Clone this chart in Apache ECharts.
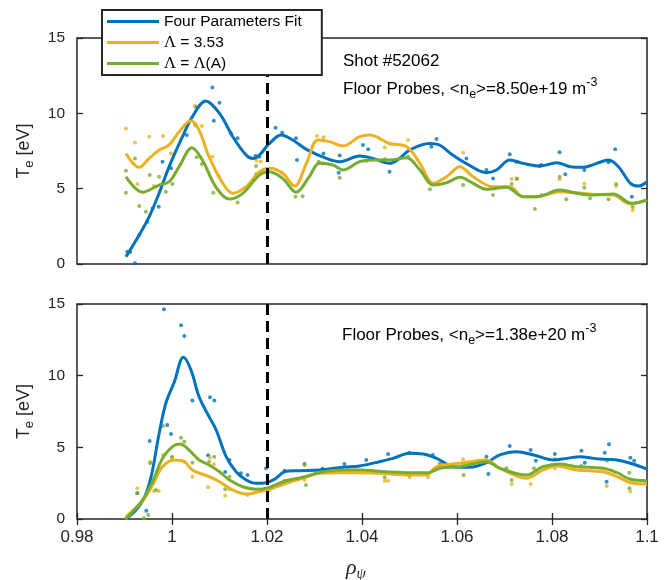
<!DOCTYPE html>
<html>
<head>
<meta charset="utf-8">
<script src="https://cdn.jsdelivr.net/npm/echarts@6/dist/echarts.min.js"></script>
<style>
  html, body { margin: 0; padding: 0; background: #fff; }
  #chart { width: 666px; height: 580px; }
</style>
</head>
<body>
<div id="chart"></div>
<script>
// ---- Shot #52062, <ne> = 8.50e+19 m^-3 (upper panel) ----
const fitFourTopX = [0.9903, 0.9931, 0.9952, 0.9973, 0.9994, 1.0022, 1.0043, 1.0071, 1.0100, 1.0128, 1.0156, 1.0170, 1.0184, 1.0205, 1.0230, 1.0254, 1.0283, 1.0325, 1.0353, 1.0395, 1.0423, 1.0458, 1.0479, 1.0500, 1.0542, 1.0563, 1.0591, 1.0619, 1.0662, 1.0683, 1.0711, 1.0739, 1.0775, 1.0810, 1.0838, 1.0866, 1.0894, 1.0919, 1.0940, 1.0965, 1.0982, 1.1000];
const fitFourTopY = [0.48, 1.92, 3.14, 4.70, 6.46, 8.45, 9.78, 10.82, 10.00, 8.45, 7.23, 7.00, 7.23, 8.00, 8.56, 8.23, 7.61, 7.01, 6.79, 7.17, 7.01, 6.68, 7.01, 7.56, 8.00, 7.90, 7.23, 6.68, 6.06, 6.24, 6.90, 6.68, 6.50, 6.72, 6.46, 6.42, 6.68, 6.90, 6.46, 5.35, 5.17, 5.46];

const fitConstTopX = [0.9903, 0.9931, 0.9952, 0.9973, 0.9994, 1.0015, 1.0040, 1.0057, 1.0078, 1.0107, 1.0128, 1.0156, 1.0184, 1.0205, 1.0233, 1.0258, 1.0283, 1.0307, 1.0332, 1.0360, 1.0395, 1.0416, 1.0458, 1.0494, 1.0522, 1.0550, 1.0578, 1.0606, 1.0634, 1.0676, 1.0711, 1.0739, 1.0768, 1.0817, 1.0852, 1.0887, 1.0929, 1.0965, 1.1000];
const fitConstTopY = [7.34, 6.42, 7.01, 7.56, 7.90, 8.78, 9.51, 8.89, 7.12, 5.35, 4.69, 5.13, 6.12, 6.35, 6.02, 5.17, 6.68, 8.23, 8.12, 7.83, 8.45, 8.56, 8.00, 7.78, 6.68, 5.35, 5.79, 6.46, 5.79, 5.13, 5.13, 4.47, 4.47, 4.80, 4.73, 4.62, 4.58, 3.98, 4.25];

const fitVarTopX = [0.9903, 0.9938, 0.9973, 0.9994, 1.0015, 1.0042, 1.0064, 1.0092, 1.0121, 1.0149, 1.0184, 1.0205, 1.0233, 1.0261, 1.0289, 1.0310, 1.0339, 1.0360, 1.0395, 1.0423, 1.0458, 1.0494, 1.0522, 1.0550, 1.0578, 1.0606, 1.0634, 1.0662, 1.0704, 1.0739, 1.0768, 1.0817, 1.0852, 1.0887, 1.0929, 1.0968, 1.1000];
const fitVarTopY = [5.79, 4.76, 5.24, 5.46, 6.46, 7.72, 6.90, 5.13, 4.31, 4.69, 5.90, 6.12, 5.68, 4.76, 5.79, 6.68, 6.57, 6.24, 6.79, 6.90, 6.90, 7.05, 6.24, 5.24, 5.39, 5.75, 5.35, 4.96, 5.09, 4.47, 4.47, 4.91, 4.69, 4.58, 4.64, 4.03, 4.25];

const probeFourTopX = [0.9906, 0.9912, 0.9922, 0.9931, 0.9948, 0.9959, 0.9972, 0.9980, 0.9998, 1.0031, 1.0050, 1.0085, 1.0088, 1.0100, 1.0124, 1.0138, 1.0176, 1.0184, 1.0218, 1.0232, 1.0261, 1.0263, 1.0319, 1.0353, 1.0351, 1.0402, 1.0413, 1.0458, 1.0546, 1.0557, 1.0620, 1.0662, 1.0676, 1.0711, 1.0725, 1.0774, 1.0778, 1.0816, 1.0828, 1.0868, 1.0919, 1.0933, 1.0968];
const probeFourTopY = [0.82, 0.80, 0.05, 1.92, 2.81, 3.69, 3.80, 6.79, 6.35, 8.56, 10.44, 11.72, 9.51, 10.71, 8.67, 8.34, 7.17, 7.12, 9.05, 8.71, 8.34, 6.90, 7.34, 7.20, 6.06, 7.90, 7.61, 6.12, 7.78, 8.29, 7.01, 6.24, 5.68, 7.28, 6.79, 6.50, 6.57, 7.41, 5.95, 6.24, 6.75, 7.61, 4.47];

const probeConstTopX = [0.9903, 0.9922, 0.9927, 0.9952, 0.9962, 0.9981, 0.9998, 1.0048, 1.0049, 1.0063, 1.0085, 1.0098, 1.0178, 1.0187, 1.0231, 1.0305, 1.0319, 1.0448, 1.0458, 1.0497, 1.0613, 1.0715, 1.0726, 1.0816, 1.0868, 1.0935, 1.0970];
const probeConstTopY = [9.00, 8.07, 5.31, 8.45, 5.17, 8.49, 7.34, 10.48, 9.18, 9.16, 7.12, 5.84, 6.85, 6.80, 6.08, 8.49, 8.41, 7.74, 7.98, 8.23, 7.39, 5.64, 5.64, 5.62, 5.35, 5.17, 3.58];

const probeVarTopX = [0.9903, 0.9903, 0.9922, 0.9931, 0.9945, 0.9953, 0.9973, 0.9987, 1.0001, 1.0049, 1.0052, 1.0063, 1.0087, 1.0138, 1.0177, 1.0177, 1.0260, 1.0275, 1.0309, 1.0317, 1.0353, 1.0409, 1.0448, 1.0497, 1.0543, 1.0613, 1.0676, 1.0715, 1.0726, 1.0764, 1.0778, 1.0816, 1.0830, 1.0868, 1.0880, 1.0919, 1.0935, 1.0970];
const probeVarTopY = [6.19, 4.73, 7.01, 3.85, 3.47, 5.90, 5.79, 4.80, 5.31, 9.27, 7.08, 6.64, 4.73, 4.09, 5.95, 6.50, 4.47, 4.50, 6.79, 6.68, 5.73, 6.85, 6.95, 7.12, 4.96, 5.24, 4.58, 5.31, 5.68, 3.65, 4.58, 5.79, 4.29, 5.06, 4.36, 4.29, 5.31, 3.80];

// ---- <ne> = 1.38e+20 m^-3 (lower panel) ----
const fitFourBotX = [0.9903, 0.9924, 0.9941, 0.9956, 0.9973, 0.9987, 1.0005, 1.0024, 1.0040, 1.0057, 1.0078, 1.0093, 1.0114, 1.0135, 1.0156, 1.0177, 1.0198, 1.0219, 1.0237, 1.0268, 1.0311, 1.0360, 1.0395, 1.0437, 1.0465, 1.0500, 1.0529, 1.0557, 1.0592, 1.0627, 1.0662, 1.0690, 1.0725, 1.0761, 1.0803, 1.0831, 1.0859, 1.0887, 1.0916, 1.0937, 1.0965, 1.1000];
const fitFourBotY = [0.00, 0.63, 1.44, 2.95, 5.98, 8.07, 9.58, 11.28, 10.40, 8.53, 7.14, 6.21, 4.35, 3.30, 2.72, 2.49, 2.53, 2.84, 3.30, 3.37, 3.42, 3.61, 3.70, 4.00, 4.23, 4.58, 4.54, 4.23, 3.65, 3.61, 3.93, 4.47, 4.70, 4.47, 4.12, 4.23, 4.35, 4.23, 4.16, 4.12, 3.89, 3.49];

const fitConstBotX = [0.9903, 0.9938, 0.9959, 0.9980, 1.0005, 1.0026, 1.0043, 1.0078, 1.0100, 1.0128, 1.0156, 1.0184, 1.0212, 1.0240, 1.0275, 1.0311, 1.0353, 1.0395, 1.0437, 1.0500, 1.0535, 1.0557, 1.0606, 1.0662, 1.0690, 1.0746, 1.0781, 1.0810, 1.0852, 1.0908, 1.0937, 1.0965, 1.1000];
const fitConstBotY = [0.16, 1.26, 2.37, 3.65, 4.12, 4.00, 3.42, 2.95, 2.60, 2.02, 1.74, 1.91, 2.14, 2.49, 2.84, 3.19, 3.23, 3.23, 3.19, 3.07, 3.07, 3.65, 3.89, 4.12, 3.54, 2.84, 3.42, 3.70, 3.42, 3.30, 2.95, 2.53, 2.44];

const fitVarBotX = [0.9903, 0.9938, 0.9959, 0.9980, 1.0001, 1.0017, 1.0036, 1.0057, 1.0078, 1.0100, 1.0121, 1.0149, 1.0177, 1.0205, 1.0240, 1.0275, 1.0317, 1.0360, 1.0395, 1.0451, 1.0500, 1.0539, 1.0564, 1.0606, 1.0662, 1.0690, 1.0746, 1.0781, 1.0817, 1.0852, 1.0908, 1.0937, 1.0965, 1.1000];
const fitVarBotY = [0.00, 1.33, 2.60, 4.23, 5.05, 5.23, 4.81, 4.12, 3.77, 3.30, 2.72, 2.25, 2.07, 2.21, 2.67, 2.91, 3.30, 3.42, 3.42, 3.30, 3.23, 3.23, 3.54, 3.65, 4.00, 3.54, 3.07, 3.65, 3.84, 3.65, 3.54, 3.23, 2.77, 2.67];

const probeFourBotX = [0.9927, 0.9946, 0.9953, 0.9983, 0.9990, 0.9998, 1.0019, 1.0026, 1.0043, 1.0076, 1.0080, 1.0089, 1.0112, 1.0121, 1.0145, 1.0159, 1.0198, 1.0237, 1.0279, 1.0317, 1.0363, 1.0409, 1.0455, 1.0500, 1.0549, 1.0662, 1.0666, 1.0711, 1.0755, 1.0766, 1.0806, 1.0862, 1.0869, 1.0911, 1.0920, 1.0915, 1.0965, 1.0973];
const probeFourBotY = [1.80, 0.58, 5.44, 14.63, 6.56, 5.93, 13.52, 12.77, 8.26, 4.44, 8.49, 8.26, 3.28, 4.12, 3.19, 3.07, 3.54, 3.37, 3.84, 3.50, 3.84, 4.12, 4.54, 4.63, 4.47, 4.35, 3.14, 5.09, 4.81, 4.07, 4.54, 4.77, 3.93, 4.63, 5.21, 2.60, 4.28, 4.07];

const probeConstBotX = [0.9927, 0.9954, 0.9962, 0.9972, 0.9981, 1.0000, 1.0026, 1.0043, 1.0076, 1.0080, 1.0088, 1.0112, 1.0121, 1.0159, 1.0205, 1.0237, 1.0279, 1.0448, 1.0455, 1.0500, 1.0539, 1.0564, 1.0613, 1.0715, 1.0755, 1.0806, 1.0862, 1.0915, 1.0965];
const probeConstBotY = [2.14, 4.00, 1.95, 1.95, 4.47, 4.28, 4.00, 2.95, 2.21, 4.28, 3.82, 1.63, 2.07, 1.67, 2.02, 2.49, 2.72, 2.67, 2.67, 2.91, 2.91, 3.89, 4.16, 2.44, 2.44, 3.54, 3.42, 2.30, 1.91];

const probeVarBotX = [0.9904, 0.9927, 0.9941, 0.9950, 0.9954, 0.9966, 0.9981, 1.0000, 1.0019, 1.0026, 1.0043, 1.0078, 1.0089, 1.0112, 1.0121, 1.0198, 1.0237, 1.0279, 1.0282, 1.0448, 1.0500, 1.0564, 1.0614, 1.0704, 1.0715, 1.0762, 1.0806, 1.0862, 1.0916, 1.0963, 1.0963];
const probeVarBotY = [0.05, 1.79, 0.05, 0.28, 3.89, 2.02, 6.49, 4.35, 5.67, 5.39, 3.93, 4.00, 4.35, 2.07, 2.95, 2.07, 2.67, 3.77, 2.37, 2.91, 3.07, 3.84, 3.07, 3.54, 2.72, 3.54, 4.16, 3.70, 4.07, 2.14, 3.23];

// Axis ranges, ticks and the separatrix position
const xMin = 0.98, xMax = 1.1, xStep = 0.02;
const yMin = 0, yMax = 15, yStep = 5;
const separatrix = 1.02;

const seriesNames = ['Four Parameters Fit', 'Λ = 3.53', 'Λ = Λ(A)'];
const legendRich = ['Four Parameters Fit', '{g|Λ} = 3.53', '{g|Λ} = {g|Λ}(A)'];
const colors = ['#0072BD', '#EDB120', '#77AC30'];

const pairs = (xs, ys) => xs.map((x, i) => [x, ys[i]]);

const FONT = 'Liberation Sans, Arial, Helvetica, sans-serif';
const AX = '#262626';

function xAxes(gridIndex, withLabels) {
  const base = {
    type: 'value', gridIndex, min: xMin, max: xMax, interval: xStep,
    axisLine: { show: false }, splitLine: { show: false },
    axisTick: { show: withLabels, inside: true, length: 6, lineStyle: { color: AX, width: 1.3 } }
  };
  return [
    Object.assign({}, base, {
      position: 'bottom',
      axisLabel: {
        show: withLabels, margin: 10, color: AX, fontFamily: FONT, fontSize: 17,
        formatter: v => String(parseFloat(v.toFixed(2)))
      }
    }),
    Object.assign({}, base, { position: 'top', axisLabel: { show: false } })
  ];
}

function yAxes(gridIndex) {
  const base = {
    type: 'value', gridIndex, min: yMin, max: yMax, interval: yStep,
    axisLine: { show: false }, splitLine: { show: false },
    axisTick: { show: true, inside: true, length: 6, lineStyle: { color: AX, width: 1.3 } }
  };
  return [
    Object.assign({}, base, {
      position: 'left',
      axisLabel: { margin: 12, color: AX, fontFamily: FONT, fontSize: 15.5 },
      name: '{m|T}{s|e}{m| [eV]}',
      nameLocation: 'middle', nameGap: 41, nameRotate: 90,
      nameTextStyle: {
        color: AX,
        rich: {
          m: { fontFamily: FONT, fontSize: 18, color: AX },
          s: { fontFamily: FONT, fontSize: 13, color: AX, padding: [10, 0, 0, 0] }
        }
      }
    }),
    Object.assign({}, base, { position: 'right', axisLabel: { show: false } })
  ];
}

function panelSeries(gridIdx, fits, probes) {
  const xi = gridIdx * 2, yi = gridIdx * 2;
  const out = [];
  probes.forEach((p, k) => {
    out.push({
      type: 'scatter', name: seriesNames[k] + ' probes', xAxisIndex: xi, yAxisIndex: yi,
      data: pairs(p[0], p[1]), symbol: 'circle', symbolSize: 4,
      itemStyle: { color: colors[k] }, z: 2, silent: true
    });
  });
  fits.forEach((f, k) => {
    const s = {
      type: 'line', name: seriesNames[k], xAxisIndex: xi, yAxisIndex: yi,
      data: pairs(f[0], f[1]), smooth: 0.35, showSymbol: false, symbol: 'none',
      lineStyle: { color: colors[k], width: 3 }, itemStyle: { color: colors[k] },
      z: 3 + k, silent: true
    };
    if (k === 0) {
      s.markLine = {
        silent: true, symbol: 'none', label: { show: false },
        lineStyle: { color: '#000', type: [11, 6], width: 3 },
        data: [{ xAxis: separatrix }], z: 6
      };
    }
    out.push(s);
  });
  return out;
}

const chart = echarts.init(document.getElementById('chart'), null, { renderer: 'canvas' });

const option = {
  animation: false,
  backgroundColor: '#fff',
  grid: [
    { left: 77, top: 38, width: 570, height: 226, show: true, borderColor: AX, borderWidth: 1.5, backgroundColor: 'transparent' },
    { left: 77, top: 304, width: 570, height: 215, show: true, borderColor: AX, borderWidth: 1.5, backgroundColor: 'transparent' }
  ],
  xAxis: [].concat(xAxes(0, false), xAxes(1, true)),
  yAxis: [].concat(yAxes(0), yAxes(1)),
  legend: {
    data: seriesNames.map(n => ({ name: n, icon: 'rect' })),
    orient: 'vertical', left: 102, top: 10,
    itemWidth: 52, itemHeight: 3, itemGap: 0, itemTextGap: 6,
    padding: [1, 20, 1, 5],
    backgroundColor: '#fff', borderColor: AX, borderWidth: 2, borderRadius: 0,
    selectedMode: false, z: 10,
    formatter: n => legendRich[seriesNames.indexOf(n)],
    textStyle: {
      fontFamily: FONT, fontSize: 15.5, color: '#000', lineHeight: 21,
      rich: { g: { fontFamily: 'Liberation Serif, serif', fontSize: 16.5, color: '#000', lineHeight: 21 } }
    }
  },
  series: [].concat(
    panelSeries(0,
      [[fitFourTopX, fitFourTopY], [fitConstTopX, fitConstTopY], [fitVarTopX, fitVarTopY]],
      [[probeFourTopX, probeFourTopY], [probeConstTopX, probeConstTopY], [probeVarTopX, probeVarTopY]]),
    panelSeries(1,
      [[fitFourBotX, fitFourBotY], [fitConstBotX, fitConstBotY], [fitVarBotX, fitVarBotY]],
      [[probeFourBotX, probeFourBotY], [probeConstBotX, probeConstBotY], [probeVarBotX, probeVarBotY]])
  ),
  graphic: [
    {
      type: 'text', x: 343, y: 61, z: 20,
      style: { text: 'Shot #52062', font: '17px ' + FONT, fill: '#000', textVerticalAlign: 'middle' }
    },
    {
      type: 'text', x: 343, y: 89, z: 20,
      style: {
        text: '{m|Floor Probes, <n}{s|e}{m|>=8.50e+19 m}{p|-3}',
        textVerticalAlign: 'middle', fill: '#000',
        rich: {
          m: { fontFamily: FONT, fontSize: 17, fill: '#000' },
          s: { fontFamily: FONT, fontSize: 12.5, fill: '#000', padding: [11, 0, 0, 0] },
          p: { fontFamily: FONT, fontSize: 12.5, fill: '#000', padding: [0, 0, 13, 0] }
        }
      }
    },
    {
      type: 'text', x: 342, y: 335, z: 20,
      style: {
        text: '{m|Floor Probes, <n}{s|e}{m|>=1.38e+20 m}{p|-3}',
        textVerticalAlign: 'middle', fill: '#000',
        rich: {
          m: { fontFamily: FONT, fontSize: 17, fill: '#000' },
          s: { fontFamily: FONT, fontSize: 12.5, fill: '#000', padding: [11, 0, 0, 0] },
          p: { fontFamily: FONT, fontSize: 12.5, fill: '#000', padding: [0, 0, 13, 0] }
        }
      }
    },
    {
      type: 'text', x: 356, y: 568, z: 20,
      style: {
        text: '{r|ρ}{s|ψ}',
        textAlign: 'center', textVerticalAlign: 'middle', fill: AX,
        rich: {
          r: { fontFamily: 'Liberation Serif, serif', fontStyle: 'italic', fontSize: 22, fill: AX },
          s: { fontFamily: 'Liberation Serif, serif', fontStyle: 'italic', fontSize: 15, fill: AX, padding: [12, 0, 0, 0] }
        }
      }
    }
  ]
};

chart.setOption(option);
</script>
</body>
</html>
